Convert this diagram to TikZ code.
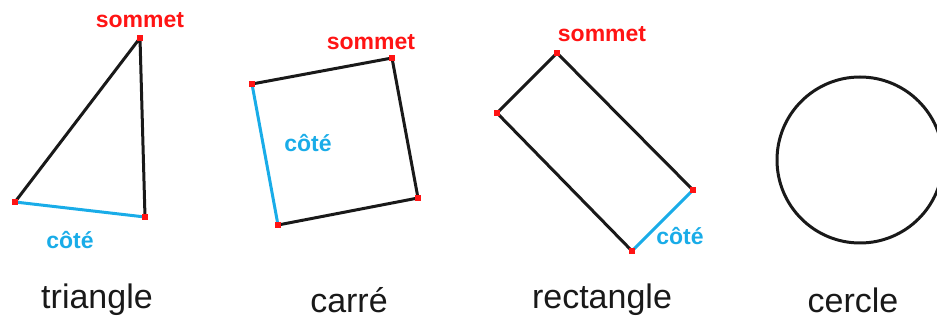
\documentclass[tikz,border=0pt]{standalone}
\usepackage{fontspec}
\setmainfont{Liberation Sans}
\usepackage{tikz}
\definecolor{vertex}{RGB}{255,20,20}
\definecolor{side}{RGB}{25,172,232}
\definecolor{ink}{RGB}{25,25,25}

\begin{document}
\begin{tikzpicture}[x=.5pt,y=-.5pt,
  dot/.style={fill=vertex,rectangle,inner sep=0pt,minimum size=3pt},
  edge/.style={ink,line width=1.5pt,line join=round},
  sideedge/.style={side,line width=1.5pt},
  lab/.style={font=\fontsize{11.5}{13}\selectfont\bfseries},
  shapename/.style={ink,font=\fontsize{17}{20}\selectfont}]
\clip (0,0) rectangle (937,320);
\coordinate (t1) at (140,38); \coordinate (t2) at (15,202); \coordinate (t3) at (145,217);
\coordinate (c1) at (252,84); \coordinate (c2) at (392,58); \coordinate (c3) at (418,198); \coordinate (c4) at (278,225);
\coordinate (r1) at (557,53); \coordinate (r2) at (497,113); \coordinate (r3) at (693,190); \coordinate (r4) at (632,251);
\draw[edge] (t2)--(t1)--(t3);
\draw[sideedge] (t2)--(t3);
\draw[edge] (c1)--(c2)--(c3)--(c4);
\draw[sideedge] (c1)--(c4);
\draw[edge] (r3)--(r1)--(r2)--(r4);
\draw[sideedge] (r4)--(r3);
\draw[edge] (860,160) circle[radius=83];
\foreach \v in {t1,t2,t3,c1,c2,c3,c4,r1,r2,r3,r4} {\node[dot] (d\v) at (\v) {};}
\node[lab,vertex] (tsommet) at (140,20) {sommet};
\node[lab,vertex] (csommet) at (371,42) {sommet};
\node[lab,vertex] (rsommet) at (602,34) {sommet};
\node[lab,side] (tcote) at (70,240) {côté};
\node[lab,side] (ccote) at (308,143) {côté};
\node[lab,side] (rcote) at (680,236) {côté};
\foreach \n/\x/\t in {ntri/97/triangle,ncar/349/carré,nrect/602/rectangle,ncer/853/cercle} {\node[shapename] (\n) at (\x,300) {\t};}
\end{tikzpicture}
\end{document}
